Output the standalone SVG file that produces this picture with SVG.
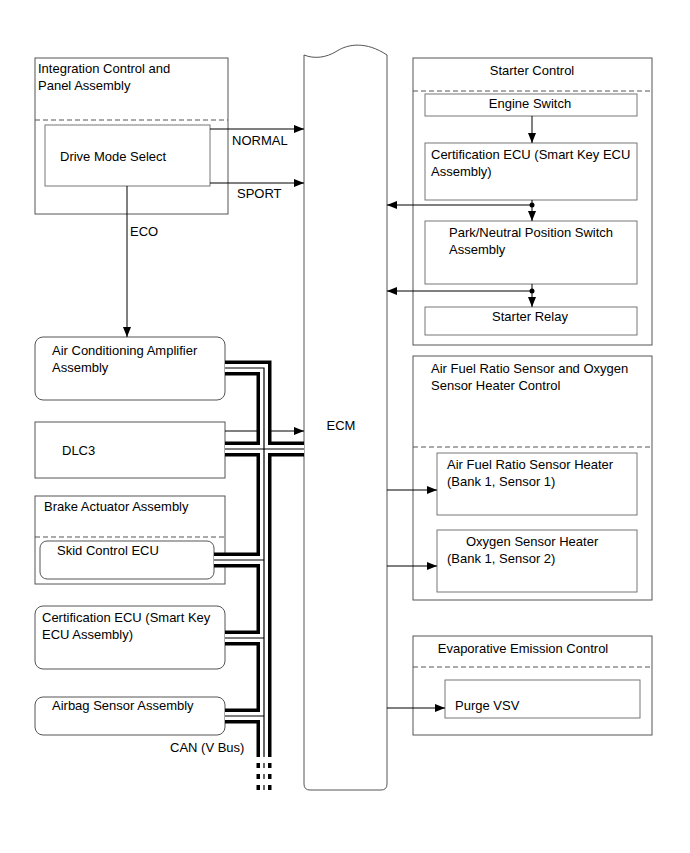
<svg xmlns="http://www.w3.org/2000/svg" width="690" height="853" viewBox="0 0 690 853">
<style>
text{font-family:"Liberation Sans",Arial,sans-serif;font-size:13px;fill:#000}
.box{fill:#fff;stroke:#555;stroke-width:1}
.inner{fill:#fff;stroke:#777;stroke-width:1}
.dash{stroke:#555;stroke-width:1;stroke-dasharray:5 3;fill:none}
.ln{stroke:#000;stroke-width:1;fill:none}
.b1{stroke:#000;stroke-width:15;fill:none;stroke-linejoin:miter}
.b2{stroke:#fff;stroke-width:8;fill:none;stroke-linejoin:miter}
.b3{stroke:#000;stroke-width:1.2;fill:none;stroke-linejoin:miter}
.bd{stroke-dasharray:5 6}
</style>
<defs>
<marker id="ah" viewBox="0 0 10 8" refX="10" refY="4" markerWidth="10" markerHeight="8" markerUnits="userSpaceOnUse" orient="auto">
<path d="M0,0 L10,4 L0,8 Z" fill="#000"/>
</marker>
</defs>
<rect width="690" height="853" fill="#fff"/>

<g id="ecm">
<path class="box" d="M304,55 C314,59 326,58 337,51 C348,44 366,41 387,55 V784 Q387,790 381,790 H310 Q304,790 304,784 Z"/>
<text x="341" y="430" text-anchor="middle">ECM</text>
</g>

<g id="integration">
<rect class="box" x="35" y="58" width="193" height="156"/>
<line class="dash" x1="35" y1="120" x2="228" y2="120"/>
<text x="38" y="73">Integration Control and</text>
<text x="38" y="90">Panel Assembly</text>
</g>
<g id="drive-mode">
<rect class="inner" x="45" y="125" width="165" height="61"/>
<text x="60" y="161">Drive Mode Select</text>
</g>

<g id="aircon">
<rect class="box" x="35" y="337" width="190" height="63" rx="8"/>
<text x="52" y="355">Air Conditioning Amplifier</text>
<text x="52" y="372">Assembly</text>
</g>
<g id="dlc3">
<rect class="box" x="35" y="422" width="190" height="56"/>
<text x="62" y="455">DLC3</text>
</g>
<g id="brake">
<rect class="box" x="35" y="496" width="190" height="88"/>
<line class="dash" x1="35" y1="537" x2="225" y2="537"/>
<text x="44" y="511">Brake Actuator Assembly</text>
</g>
<g id="skid">
<rect class="box" x="40" y="541" width="174" height="38" rx="7"/>
<text x="57" y="555">Skid Control ECU</text>
</g>
<g id="cert-left">
<rect class="box" x="35" y="606" width="190" height="63" rx="8"/>
<text x="42" y="622">Certification ECU (Smart Key</text>
<text x="42" y="639">ECU Assembly)</text>
</g>
<g id="airbag">
<rect class="box" x="35" y="697" width="190" height="38" rx="8"/>
<text x="52" y="710">Airbag Sensor Assembly</text>
</g>

<g id="starter-control">
<rect class="box" x="413" y="58" width="239" height="287"/>
<line class="dash" x1="413" y1="91" x2="652" y2="91"/>
<text x="532" y="75" text-anchor="middle">Starter Control</text>
</g>
<g id="engine-switch">
<rect class="inner" x="425" y="94" width="212" height="22"/>
<text x="530" y="108" text-anchor="middle">Engine Switch</text>
</g>
<g id="cert-right">
<rect class="inner" x="425" y="143" width="212" height="57"/>
<text x="431" y="159">Certification ECU (Smart Key ECU</text>
<text x="431" y="176">Assembly)</text>
</g>
<g id="park-neutral">
<rect class="inner" x="425" y="221" width="212" height="63"/>
<text x="449" y="237">Park/Neutral Position Switch</text>
<text x="449" y="254">Assembly</text>
</g>
<g id="starter-relay">
<rect class="inner" x="425" y="307" width="212" height="28"/>
<text x="530" y="321" text-anchor="middle">Starter Relay</text>
</g>

<g id="afr-control">
<rect class="box" x="413" y="356" width="239" height="244"/>
<line class="dash" x1="413" y1="447" x2="652" y2="447"/>
<text x="431" y="373">Air Fuel Ratio Sensor and Oxygen</text>
<text x="431" y="390">Sensor Heater Control</text>
</g>
<g id="afr-heater">
<rect class="inner" x="437" y="453" width="200" height="62"/>
<text x="447" y="469">Air Fuel Ratio Sensor Heater</text>
<text x="447" y="486">(Bank 1, Sensor 1)</text>
</g>
<g id="o2-heater">
<rect class="inner" x="437" y="530" width="200" height="62"/>
<text x="466" y="546">Oxygen Sensor Heater</text>
<text x="447" y="563">(Bank 1, Sensor 2)</text>
</g>

<g id="evap-control">
<rect class="box" x="413" y="636" width="239" height="99"/>
<line class="dash" x1="413" y1="667" x2="652" y2="667"/>
<text x="523" y="653" text-anchor="middle">Evaporative Emission Control</text>
</g>
<g id="purge-vsv">
<rect class="inner" x="445" y="680" width="195" height="38"/>
<text x="455" y="710">Purge VSV</text>
</g>

<g id="connectors">
<line class="ln" x1="210" y1="129" x2="304" y2="129" marker-end="url(#ah)"/>
<text x="232" y="145">NORMAL</text>
<line class="ln" x1="210" y1="183" x2="304" y2="183" marker-end="url(#ah)"/>
<text x="237" y="198">SPORT</text>
<line class="ln" x1="127" y1="186" x2="127" y2="337" marker-end="url(#ah)"/>
<text x="130" y="236">ECO</text>
<line class="ln" x1="225" y1="431" x2="304" y2="431" marker-end="url(#ah)"/>

<line class="ln" x1="532" y1="116" x2="532" y2="143" marker-end="url(#ah)"/>
<line class="ln" x1="532" y1="200" x2="532" y2="221" marker-end="url(#ah)"/>
<line class="ln" x1="532" y1="205" x2="387" y2="205" marker-end="url(#ah)"/>
<circle cx="532" cy="205" r="2.5" fill="#000"/>
<line class="ln" x1="532" y1="284" x2="532" y2="307" marker-end="url(#ah)"/>
<line class="ln" x1="532" y1="291" x2="387" y2="291" marker-end="url(#ah)"/>
<circle cx="532" cy="291" r="2.5" fill="#000"/>

<line class="ln" x1="387" y1="490" x2="437" y2="490" marker-end="url(#ah)"/>
<line class="ln" x1="387" y1="566" x2="437" y2="566" marker-end="url(#ah)"/>
<line class="ln" x1="387" y1="708" x2="445" y2="708" marker-end="url(#ah)"/>

<g id="can-bus">
<path class="b1" d="M225,368 H264 V757 M225,449 H304 M214,560 H264 M225,638 H264 M225,716 H264"/>
<path class="b1 bd" d="M264,763 V790"/>
<path class="b2" d="M225,368 H264 V757 M225,449 H304 M214,560 H264 M225,638 H264 M225,716 H264"/>
<path class="b2 bd" d="M264,763 V790"/>
<path class="b3" d="M225,368 H264 V757 M225,449 H304 M214,560 H264 M225,638 H264 M225,716 H264"/>
<path class="b3 bd" d="M264,763 V790"/>
</g>
<text x="170" y="752">CAN (V Bus)</text>
</g>
</svg>
